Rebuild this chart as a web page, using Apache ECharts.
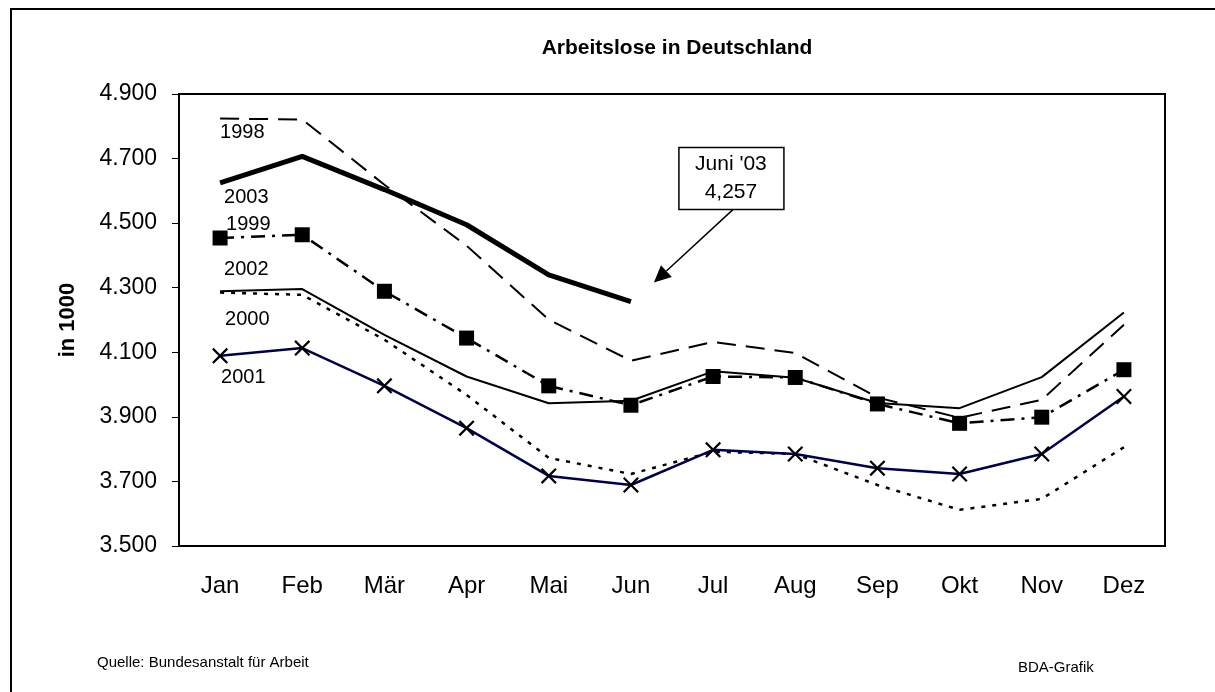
<!DOCTYPE html>
<html>
<head>
<meta charset="utf-8">
<script src="https://cdn.jsdelivr.net/npm/echarts@6/dist/echarts.min.js"></script>
<style>
  html, body { margin: 0; padding: 0; background: #fff; }
  #chart { width: 1215px; height: 692px; }
</style>
</head>
<body>
<div id="chart"></div>
<script>
// Monate (Kategorien)
const months = ['Jan', 'Feb', 'Mär', 'Apr', 'Mai', 'Jun', 'Jul', 'Aug', 'Sep', 'Okt', 'Nov', 'Dez'];
// Arbeitslose in 1000, je Jahr
const y1998 = [4824, 4821, 4619, 4430, 4201, 4074, 4132, 4098, 3960, 3897, 3953, 4185];
const y1999 = [4454, 4464, 4289, 4144, 3996, 3936, 4025, 4022, 3940, 3880, 3899, 4046];
const y2000 = [4285, 4278, 4139, 3968, 3773, 3723, 3792, 3785, 3689, 3612, 3646, 3806];
const y2001 = [4089, 4113, 3996, 3865, 3717, 3689, 3798, 3785, 3741, 3723, 3785, 3963];
const y2002 = [4289, 4296, 4154, 4025, 3942, 3950, 4041, 4021, 3943, 3927, 4023, 4223];
const y2003 = [4625, 4707, 4604, 4495, 4340, 4257, null, null, null, null, null, null];
// Hinweis-Box
const noteMonth = 'Jun';
const noteValue = 4257;
const noteLines = ["Juni '03", '4,257'];

const FONT = "'Liberation Sans', Arial, sans-serif";

// Jahreszahl nur am ersten Punkt anzeigen
function withLabel(vals, dx, dy) {
  return vals.map((v, i) => i === 0 ? {
    value: v,
    label: {
      show: true, formatter: '{a}', position: 'inside', align: 'left', verticalAlign: 'middle',
      offset: [dx, dy], fontSize: 20, fontFamily: FONT, color: '#000'
    }
  } : v);
}

const xPath = 'path://M0,1L1,0L5,4L9,0L10,1L6,5L10,9L9,10L5,6L1,10L0,9L4,5Z';
const hidden = { color: 'rgba(0,0,0,0)' };

const chart = echarts.init(document.getElementById('chart'));

const option = {
  backgroundColor: '#fff',
  animation: false,
  title: [
    {
      text: 'Arbeitslose in Deutschland', left: 672, top: 33, textAlign: 'center',
      textStyle: { fontFamily: FONT, fontSize: 21, fontWeight: 'bold', color: '#000' }
    },
    {
      text: 'Quelle: Bundesanstalt für Arbeit', left: 97, top: 655, padding: 0,
      textStyle: { fontFamily: FONT, fontSize: 15, fontWeight: 'normal', color: '#000' }
    },
    {
      text: 'BDA-Grafik', left: 1018, top: 660, padding: 0,
      textStyle: { fontFamily: FONT, fontSize: 15, fontWeight: 'normal', color: '#000' }
    }
  ],
  grid: {
    left: 179, top: 94, right: 50, bottom: 146,
    show: true, borderColor: '#000', borderWidth: 2, backgroundColor: '#fff'
  },
  xAxis: {
    type: 'category',
    data: months,
    boundaryGap: true,
    axisLine: { lineStyle: { color: '#000', width: 2 } },
    axisTick: { show: false },
    axisLabel: { color: '#000', fontSize: 24, fontFamily: FONT, margin: 28 },
    splitLine: { show: false }
  },
  yAxis: {
    type: 'value',
    min: 3500, max: 4900, interval: 200,
    name: 'in 1000', nameLocation: 'middle', nameGap: 100, nameRotate: 90,
    nameTextStyle: { color: '#000', fontSize: 22, fontWeight: 'bold', fontFamily: FONT },
    axisLine: { show: true, lineStyle: { color: '#000', width: 2 } },
    axisTick: { show: true, length: 7, lineStyle: { color: '#000', width: 1 } },
    axisLabel: {
      color: '#000', fontSize: 23, fontFamily: FONT, margin: 22,
      formatter: v => (v / 1000).toFixed(3)
    },
    splitLine: { show: false }
  },
  series: [
    {
      name: '1998', type: 'line', data: withLabel(y1998, 0, 14),
      symbol: 'circle', symbolSize: 1, itemStyle: hidden,
      lineStyle: { color: '#000', width: 2, type: [19, 10] }, z: 2
    },
    {
      name: '2000', type: 'line', data: withLabel(y2000, 5, 27),
      symbol: 'circle', symbolSize: 1, itemStyle: hidden,
      lineStyle: { color: '#000', width: 2.5, type: [4, 7] }, z: 2
    },
    {
      name: '2002', type: 'line', data: withLabel(y2002, 4, -22),
      symbol: 'circle', symbolSize: 1, itemStyle: hidden,
      lineStyle: { color: '#000', width: 2 }, z: 3
    },
    {
      name: '1999', type: 'line', data: withLabel(y1999, 6, -14),
      symbol: 'rect', symbolSize: 15, itemStyle: { color: '#000' },
      lineStyle: { color: '#000', width: 2.5, type: [14, 7, 3, 7] }, z: 4
    },
    {
      name: '2001', type: 'line', data: withLabel(y2001, 1, 22),
      symbol: xPath, symbolSize: 16, itemStyle: { color: '#000' },
      lineStyle: { color: '#00004a', width: 2.5 }, z: 4
    },
    {
      name: '2003', type: 'line', data: withLabel(y2003, 4, 15),
      symbol: 'circle', symbolSize: 1, itemStyle: hidden,
      lineStyle: { color: '#000', width: 5 }, z: 5
    }
  ]
};

chart.setOption(option);

// Rahmen und Hinweis mit Pfeil, an den Juni-Wert 2003 gebunden
const p = chart.convertToPixel({ gridIndex: 0 }, [noteMonth, noteValue]);
const tip = [p[0] + 23, p[1] - 19];
const start = [p[0] + 102, p[1] - 92];
const ang = Math.atan2(tip[1] - start[1], tip[0] - start[0]);
const hl = 17, hw = 8;
const base = [tip[0] - hl * Math.cos(ang), tip[1] - hl * Math.sin(ang)];
const head = [
  tip,
  [base[0] + hw * Math.sin(ang), base[1] - hw * Math.cos(ang)],
  [base[0] - hw * Math.sin(ang), base[1] + hw * Math.cos(ang)]
];

chart.setOption({
  graphic: [
    {
      type: 'rect', silent: true, z: 0,
      shape: { x: 11, y: 9, width: 1400, height: 900 },
      style: { fill: 'none', stroke: '#000', lineWidth: 2 }
    },
    {
      type: 'line', silent: true, z: 10,
      shape: { x1: start[0], y1: start[1], x2: base[0], y2: base[1] },
      style: { stroke: '#000', lineWidth: 1.5 }
    },
    {
      type: 'polygon', silent: true, z: 10,
      shape: { points: head },
      style: { fill: '#000' }
    },
    {
      type: 'rect', silent: true, z: 10,
      shape: { x: p[0] + 48, y: p[1] - 154, width: 105, height: 62 },
      style: { fill: '#fff', stroke: '#000', lineWidth: 1.5 }
    },
    {
      type: 'text', silent: true, z: 11,
      x: p[0] + 100, y: p[1] - 123,
      style: {
        text: noteLines.join('\n'), fill: '#000', fontSize: 21, fontFamily: FONT,
        lineHeight: 28, align: 'center', verticalAlign: 'middle'
      }
    }
  ]
});
</script>
</body>
</html>
